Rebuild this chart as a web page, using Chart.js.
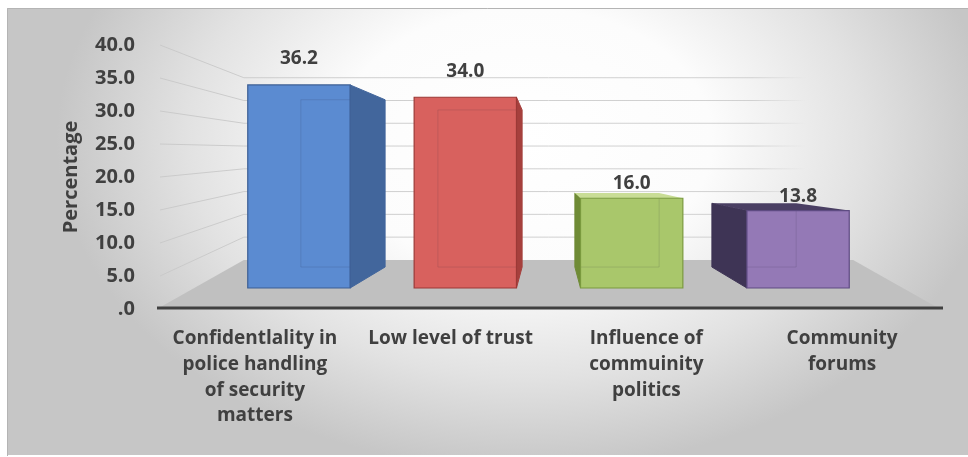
<!DOCTYPE html>
<html lang="en">
<head>
<meta charset="UTF-8" />
<title>Percentage by reason</title>
<script src="https://cdn.jsdelivr.net/npm/chart.js"></script>
<style>
  html, body { margin: 0; padding: 0; background: #fff; }
  #wrap { width: 968px; height: 457px; position: relative; }
</style>
</head>
<body>
<div id="wrap"><canvas id="canvas1"></canvas></div>
<script>
// dados
const categorias = [
  ['Confidentlality in', 'police handling', 'of security', 'matters'],
  'Low level of trust',
  ['Influence of', 'commuinity', 'politics'],
  ['Community', 'forums']
];
const valores = [36.2, 34.0, 16.0, 13.8];
const ticksY = ['.0', '5.0', '10.0', '15.0', '20.0', '25.0', '30.0', '35.0', '40.0'];
const coresFrente = ['#5b8bd1', '#d8615e', '#a9c76b', '#9479b6'];
const coresLado = ['#42669c', '#a6403d', '#6f8b36', '#3e3455'];
const coresTopo = ['#4a72ad', '#b84a47', '#c9dd96', '#4a3f63'];
const coresBorda = ['#3c5f94', '#9c3936', '#7a9a3e', '#5e4b82'];

const COR_TEXTO = '#404040';
const FONTE = '"Open Sans", "Noto Sans", sans-serif';

// profundidades da perspectiva (1 = eixo da frente)
const F_FRENTE = 0.85, F_FUNDO = 0.70, F_PAREDE = 0.69;

// ponto de fuga da parede/piso e das barras
function pontoFuga(ca, k) {
  return { x: (ca.left + ca.right) / 2, y: ca.top + k * (ca.bottom - ca.top) };
}
function proj(vp, x, y, f) {
  return [vp.x + f * (x - vp.x), vp.y + f * (y - vp.y)];
}
function poligono(ctx, pts) {
  ctx.beginPath();
  ctx.moveTo(pts[0][0], pts[0][1]);
  for (let i = 1; i < pts.length; i++) ctx.lineTo(pts[i][0], pts[i][1]);
  ctx.closePath();
}

const fundoPlugin = {
  id: 'fundo',
  beforeDraw(chart) {
    const ctx = chart.ctx;
    ctx.save();
    ctx.fillStyle = '#ffffff';
    ctx.fillRect(0, 0, chart.width, chart.height);
    // caixa com gradiente radial
    ctx.beginPath();
    ctx.rect(7, 8, chart.width - 7, 447);
    ctx.clip();
    ctx.translate(525, 140);
    ctx.scale(1.42, 1);
    const g = ctx.createRadialGradient(0, 0, 0, 0, 0, 330);
    g.addColorStop(0, '#ffffff');
    g.addColorStop(0.4, '#fcfcfc');
    g.addColorStop(0.72, '#e2e2e2');
    g.addColorStop(1, '#c6c6c6');
    ctx.fillStyle = g;
    ctx.fillRect(-420, -200, 840, 600);
    ctx.restore();
    ctx.save();
    ctx.strokeStyle = '#b4b4b4';
    ctx.lineWidth = 1;
    ctx.beginPath();
    ctx.moveTo(7.5, 456);
    ctx.lineTo(7.5, 8.5);
    ctx.lineTo(chart.width, 8.5);
    ctx.stroke();
    ctx.restore();
  }
};

const perspectivaPlugin = {
  id: 'perspectiva',
  beforeDatasetsDraw(chart) {
    const ctx = chart.ctx;
    const ca = chart.chartArea;
    const vp = pontoFuga(ca, 0.4);
    const y = chart.scales.y;
    const xe = ca.left - 50, xd = ca.right + 50;
    ctx.save();
    // linhas de grade: parede lateral e parede do fundo
    const fade = ctx.createLinearGradient(ca.left, 0, ca.right, 0);
    fade.addColorStop(0, 'rgba(200,200,200,0.9)');
    fade.addColorStop(0.76, 'rgba(205,205,205,0.9)');
    fade.addColorStop(0.83, 'rgba(205,205,205,0)');
    fade.addColorStop(1, 'rgba(205,205,205,0)');
    ctx.strokeStyle = fade;
    ctx.lineWidth = 1;
    y.ticks.forEach(t => {
      const ya = y.getPixelForValue(t.value);
      if (t.value === 0) return;
      const a = proj(vp, xe, ya, F_PAREDE);
      const b = proj(vp, xd, ya, F_PAREDE);
      ctx.beginPath();
      ctx.moveTo(ca.left + 3, ya);
      ctx.lineTo(a[0], a[1]);
      ctx.lineTo(b[0], b[1]);
      ctx.stroke();
    });
    // piso
    const y0 = y.getPixelForValue(0);
    poligono(ctx, [[ca.left, y0], [ca.right, y0], proj(vp, xd, y0, F_PAREDE), proj(vp, xe, y0, F_PAREDE)]);
    ctx.fillStyle = '#c0c0c0';
    ctx.fill();
    // linha do eixo
    ctx.strokeStyle = '#404040';
    ctx.lineWidth = 3;
    ctx.beginPath();
    ctx.moveTo(ca.left, y0 - 1);
    ctx.lineTo(ca.right + 3, y0 - 1);
    ctx.stroke();
    ctx.restore();
  },
  beforeDatasetDraw() {
    return false;
  },
  afterDatasetsDraw(chart) {
    const ctx = chart.ctx;
    const ca = chart.chartArea;
    const vp = pontoFuga(ca, 0.47);
    const vpRotulo = pontoFuga(ca, 0.4);
    const meta = chart.getDatasetMeta(0);
    ctx.save();
    meta.data.forEach((el, i) => {
      const p = el.getProps(['x', 'y', 'base', 'width'], true);
      const x1 = p.x - p.width / 2, x2 = p.x + p.width / 2;
      const yt = p.y, yb = p.base;
      const frente = [proj(vp, x1, yt, F_FRENTE), proj(vp, x2, yt, F_FRENTE), proj(vp, x2, yb, F_FRENTE), proj(vp, x1, yb, F_FRENTE)];
      const fundo = [proj(vp, x1, yt, F_FUNDO), proj(vp, x2, yt, F_FUNDO), proj(vp, x2, yb, F_FUNDO), proj(vp, x1, yb, F_FUNDO)];
      // lateral
      const lado = p.x < vp.x
        ? [frente[1], fundo[1], fundo[2], frente[2]]
        : [frente[0], fundo[0], fundo[3], frente[3]];
      poligono(ctx, lado);
      ctx.fillStyle = coresLado[i];
      ctx.fill();
      ctx.strokeStyle = coresLado[i];
      ctx.lineWidth = 1;
      ctx.stroke();
      // topo (só visível abaixo do ponto de fuga)
      if (yt > vp.y) {
        poligono(ctx, [frente[0], frente[1], fundo[1], fundo[0]]);
        ctx.fillStyle = coresTopo[i];
        ctx.fill();
      }
      // frente
      poligono(ctx, frente);
      ctx.fillStyle = coresFrente[i];
      ctx.fill();
      // arestas do fundo vistas através da frente
      ctx.save();
      poligono(ctx, frente);
      ctx.clip();
      ctx.strokeStyle = 'rgba(40,40,60,0.13)';
      ctx.lineWidth = 1;
      poligono(ctx, fundo);
      ctx.stroke();
      ctx.restore();
      poligono(ctx, frente);
      ctx.strokeStyle = coresBorda[i];
      ctx.lineWidth = 1.2;
      ctx.stroke();
      // rótulo do valor
      const lx = proj(vp, p.x, yt, F_FRENTE)[0];
      const ly = vpRotulo.y + 0.937 * (yt - 18 - vpRotulo.y);
      ctx.fillStyle = COR_TEXTO;
      ctx.font = 'bold 19px ' + FONTE;
      ctx.textAlign = 'center';
      ctx.textBaseline = 'middle';
      ctx.fillText(valores[i].toFixed(1), lx, ly);
    });
    ctx.restore();
  }
};

const ctx = document.getElementById('canvas1').getContext('2d');
new Chart(ctx, {
  type: 'bar',
  data: {
    labels: categorias,
    datasets: [{
      label: 'Percentage',
      data: valores,
      backgroundColor: coresFrente,
      barPercentage: 0.615,
      categoryPercentage: 1
    }]
  },
  options: {
    responsive: true,
    maintainAspectRatio: false,
    animation: false,
    layout: { padding: { top: 45, right: 28, bottom: 0, left: 0 } },
    plugins: {
      legend: { display: false },
      tooltip: { enabled: false }
    },
    scales: {
      x: {
        grid: { display: false, drawTicks: false },
        border: { display: false },
        ticks: {
          color: COR_TEXTO,
          font: { family: FONTE, size: 19, weight: 'bold', lineHeight: 1.35 },
          padding: 17,
          autoSkip: false,
          maxRotation: 0,
          minRotation: 0
        },
        afterFit(s) { s.height = 148; }
      },
      y: {
        min: 0,
        max: 40,
        grid: { display: false, drawTicks: false },
        border: { display: false },
        ticks: {
          stepSize: 5,
          color: COR_TEXTO,
          font: { family: FONTE, size: 20, weight: 'bold' },
          padding: 22,
          callback: (v, i) => ticksY[i]
        },
        title: {
          display: true,
          text: 'Percentage',
          color: COR_TEXTO,
          font: { family: FONTE, size: 20, weight: 'bold', lineHeight: 1.2 },
          padding: { top: 59, bottom: 0 }
        },
        afterFit(s) { s.width = 157; }
      }
    }
  },
  plugins: [fundoPlugin, perspectivaPlugin]
});
</script>
</body>
</html>
